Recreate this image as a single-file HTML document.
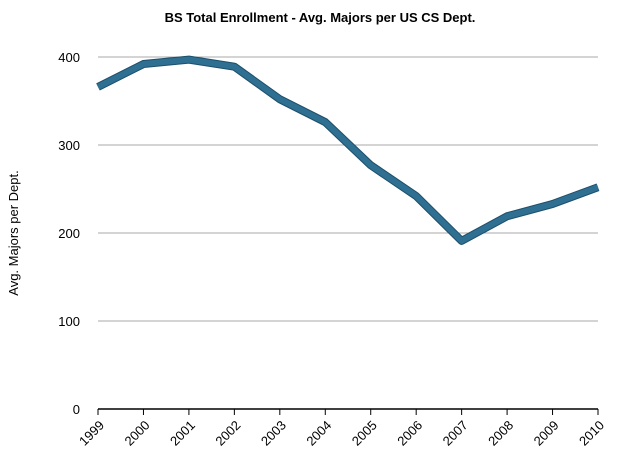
<!DOCTYPE html>
<html><head><meta charset="utf-8"><style>
body{margin:0;background:#fff;}
svg{display:block;font-family:"Liberation Sans",Helvetica,sans-serif;}
</style></head><body>
<svg id="chart" width="640" height="465">
<text x="320" y="22" text-anchor="middle" font-size="13" font-weight="bold" fill="#000">BS Total Enrollment - Avg. Majors per US CS Dept.</text>
<text transform="translate(18,233) rotate(-90)" text-anchor="middle" font-size="13" fill="#000">Avg. Majors per Dept.</text>
<g id="grid"></g><g id="ylabels"></g><g id="xaxis"></g><g id="series"></g>
</svg>
<script>
const years=["1999","2000","2001","2002","2003","2004","2005","2006","2007","2008","2009","2010"];
const majors=[366,392,397,389,352,326,277,242,191,219,233,252];
const yTicks=[0,100,200,300,400];
const ns="http://www.w3.org/2000/svg";
const x0=98,x1=598,yBase=409,pxPer=0.88;
function xs(i){return x0+i*(x1-x0)/(years.length-1);}
function ys(v){return yBase-v*pxPer;}
function mk(t,a,p){const e=document.createElementNS(ns,t);for(const k in a)e.setAttribute(k,a[k]);p.appendChild(e);return e;}
const grid=document.getElementById('grid'),yl=document.getElementById('ylabels'),xa=document.getElementById('xaxis'),se=document.getElementById('series');
yTicks.forEach(v=>{
 if(v>0){const l=mk('line',{x1:x0,x2:x1,y1:ys(v),y2:ys(v),stroke:'#a8a8a8','stroke-width':1},grid);
 
 }
 const t=mk('text',{x:80,y:ys(v)+5,'text-anchor':'end','font-size':13,fill:'#000'},yl);
 t.textContent=v;
 
 
});
const ax=mk('line',{x1:x0,x2:x1,y1:yBase,y2:yBase,stroke:'#000','stroke-width':1.5},xa);


years.forEach((y,i)=>{
 const tk=mk('line',{x1:xs(i),x2:xs(i),y1:yBase,y2:yBase+6,stroke:'#000','stroke-width':1},xa);
 
 
 const t=mk('text',{x:xs(i)+7,y:yBase+17,'text-anchor':'end','font-size':13,fill:'#000',transform:`rotate(-45 ${xs(i)+7} ${yBase+17})`},xa);
 t.textContent=y;
 
 
});
const pts=majors.map((v,i)=>xs(i)+','+ys(v)).join(' ');
const o=mk('polyline',{points:pts,fill:'none',stroke:'#1d4f6a','stroke-width':8,'stroke-linejoin':'round','stroke-linecap':'butt'},se);


const p=mk('polyline',{points:pts,fill:'none',stroke:'#2f6f91','stroke-width':6,'stroke-linejoin':'round'},se);


</script>
</body></html>
